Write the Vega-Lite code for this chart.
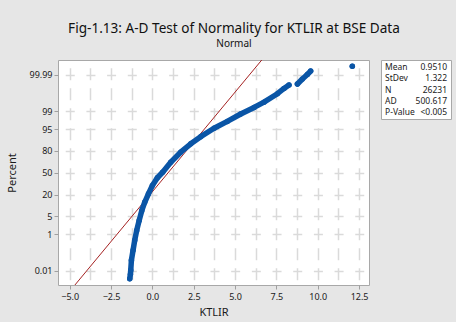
{
  "$schema": "https://vega.github.io/schema/vega-lite/v6.json",
  "background": "#e6e6e6",
  "padding": {"left": 6, "top": 21, "right": 4, "bottom": 4},
  "title": {
    "text": "Fig-1.13: A-D Test of Normality for KTLIR at BSE Data",
    "subtitle": "Normal",
    "font": "Noto Sans",
    "fontSize": 13.6,
    "fontWeight": "normal",
    "color": "#111111",
    "subtitleFont": "Noto Sans",
    "subtitleFontSize": 10,
    "subtitleColor": "#111111",
    "subtitlePadding": 3,
    "anchor": "middle",
    "dx": 5,
    "offset": 11
  },
  "config": {
    "view": {"stroke": "#a8a8a8", "fill": "white", "strokeWidth": 1},
    "font": "Noto Sans",
    "axis": {
      "labelFont": "Noto Sans",
      "titleFont": "Noto Sans",
      "labelColor": "#1a1a1a",
      "titleColor": "#1a1a1a",
      "titleFontWeight": "normal",
      "labelFontSize": 9,
      "titleFontSize": 11,
      "tickColor": "#a0a0a0",
      "tickSize": 4,
      "domain": false,
      "gridColor": "#dadada",
      "gridWidth": 1.5
    }
  },
  "spacing": 10,
  "hconcat": [
    {
      "width": 311,
      "height": 225,
      "layer": [
        {
          "data": {"values": [
            {"ktlir": -4.74, "z": -4.3},
            {"ktlir": 6.64, "z": 4.3}
          ]},
          "mark": {"type": "line", "color": "#a52222", "strokeWidth": 1, "clip": true},
          "encoding": {
            "x": {"field": "ktlir", "type": "quantitative"},
            "y": {"field": "z", "type": "quantitative"}
          }
        },
        {
          "data": {"values": [
            {"ktlir": -1.37, "z": -4.02, "seg": "a"},
            {"ktlir": -1.33, "z": -3.85, "seg": "a"},
            {"ktlir": -1.31, "z": -3.70, "seg": "a"},
            {"ktlir": -1.27, "z": -3.32, "seg": "a"},
            {"ktlir": -1.17, "z": -2.94, "seg": "a"},
            {"ktlir": -1.07, "z": -2.56, "seg": "a"},
            {"ktlir": -0.95, "z": -2.19, "seg": "a"},
            {"ktlir": -0.80, "z": -1.81, "seg": "a"},
            {"ktlir": -0.64, "z": -1.43, "seg": "a"},
            {"ktlir": -0.46, "z": -1.11, "seg": "a"},
            {"ktlir": -0.24, "z": -0.80, "seg": "a"},
            {"ktlir": 0.00, "z": -0.48, "seg": "a"},
            {"ktlir": 0.30, "z": -0.19, "seg": "a"},
            {"ktlir": 0.62, "z": 0.02, "seg": "a"},
            {"ktlir": 1.11, "z": 0.40, "seg": "a"},
            {"ktlir": 1.71, "z": 0.78, "seg": "a"},
            {"ktlir": 2.32, "z": 1.10, "seg": "a"},
            {"ktlir": 2.92, "z": 1.37, "seg": "a"},
            {"ktlir": 3.73, "z": 1.69, "seg": "a"},
            {"ktlir": 4.53, "z": 1.95, "seg": "a"},
            {"ktlir": 5.34, "z": 2.23, "seg": "a"},
            {"ktlir": 6.15, "z": 2.48, "seg": "a"},
            {"ktlir": 6.75, "z": 2.68, "seg": "a"},
            {"ktlir": 7.56, "z": 3.00, "seg": "a"},
            {"ktlir": 7.96, "z": 3.20, "seg": "a"},
            {"ktlir": 8.26, "z": 3.33, "seg": "a"},
            {"ktlir": 8.77, "z": 3.37, "seg": "b"},
            {"ktlir": 9.07, "z": 3.56, "seg": "b"},
            {"ktlir": 9.37, "z": 3.73, "seg": "b"},
            {"ktlir": 9.57, "z": 3.86, "seg": "b"},
            {"ktlir": 12.09, "z": 4.04, "seg": "c"}
          ]},
          "layer": [
            {
              "mark": {"type": "line", "color": "#0a55a6", "strokeWidth": 5.5, "strokeCap": "round", "strokeJoin": "round"},
              "encoding": {
                "x": {"field": "ktlir", "type": "quantitative"},
                "y": {"field": "z", "type": "quantitative"},
                "detail": {"field": "seg"}
              }
            },
            {
              "mark": {"type": "circle", "color": "#0a55a6", "opacity": 1, "size": 30},
              "encoding": {
                "x": {"field": "ktlir", "type": "quantitative"},
                "y": {"field": "z", "type": "quantitative"}
              }
            }
          ]
        }
      ],
      "encoding": {
        "x": {
          "type": "quantitative",
          "scale": {"domain": [-5.71, 13.1], "nice": false, "zero": false},
          "axis": {
            "title": "KTLIR",
            "values": [-5, -3.75, -2.5, -1.25, 0, 1.25, 2.5, 3.75, 5, 6.25, 7.5, 8.75, 10, 11.25, 12.5],
            "labelExpr": "abs(datum.value % 2.5) < 0.01 ? format(datum.value, '.1f') : ''",
            "tickOpacity": {"condition": {"test": "abs(datum.value % 2.5) < 0.01", "value": 1}, "value": 0},
            "grid": true,
            "gridDash": [12, 8],
            "gridDashOffset": 12.3,
            "labelPadding": 3,
            "titlePadding": 5
          }
        },
        "y": {
          "type": "quantitative",
          "scale": {"domain": [-4.26, 4.28], "nice": false, "zero": false},
          "axis": {
            "title": "Percent",
            "values": [-3.719, -2.326, -1.645, -0.8416, 0, 0.8416, 1.645, 2.326, 3.719],
            "labelExpr": "datum.value < -3 ? '0.01' : datum.value < -2 ? '1' : datum.value < -1 ? '5' : datum.value < -0.5 ? '20' : datum.value < 0.5 ? '50' : datum.value < 1 ? '80' : datum.value < 2 ? '95' : datum.value < 3 ? '99' : '99.99'",
            "grid": true,
            "gridDash": [9, 11.68],
            "gridDashOffset": 13.44,
            "labelPadding": 2,
            "titlePadding": 11
          }
        }
      }
    },
    {
      "width": 70,
      "height": 59,
      "data": {"values": [
        {"stat": "Mean", "value": "0.9510"},
        {"stat": "StDev", "value": "1.322"},
        {"stat": "N", "value": "26231"},
        {"stat": "AD", "value": "500.617"},
        {"stat": "P-Value", "value": "<0.005"}
      ]},
      "encoding": {
        "y": {"field": "stat", "type": "nominal", "sort": null, "scale": {"type": "point", "padding": 0.6}, "axis": null}
      },
      "layer": [
        {
          "mark": {"type": "text", "align": "left", "dx": 4, "fontSize": 8.5, "color": "#1a1a1a", "font": "Noto Sans"},
          "encoding": {
            "text": {"field": "stat"},
            "x": {"datum": "L", "type": "nominal", "scale": {"type": "point", "domain": ["L", "R"], "padding": 0}, "axis": null}
          }
        },
        {
          "mark": {"type": "text", "align": "right", "dx": -4, "fontSize": 8.5, "color": "#1a1a1a", "font": "Noto Sans"},
          "encoding": {
            "text": {"field": "value"},
            "x": {"datum": "R", "type": "nominal"}
          }
        }
      ]
    }
  ]
}
